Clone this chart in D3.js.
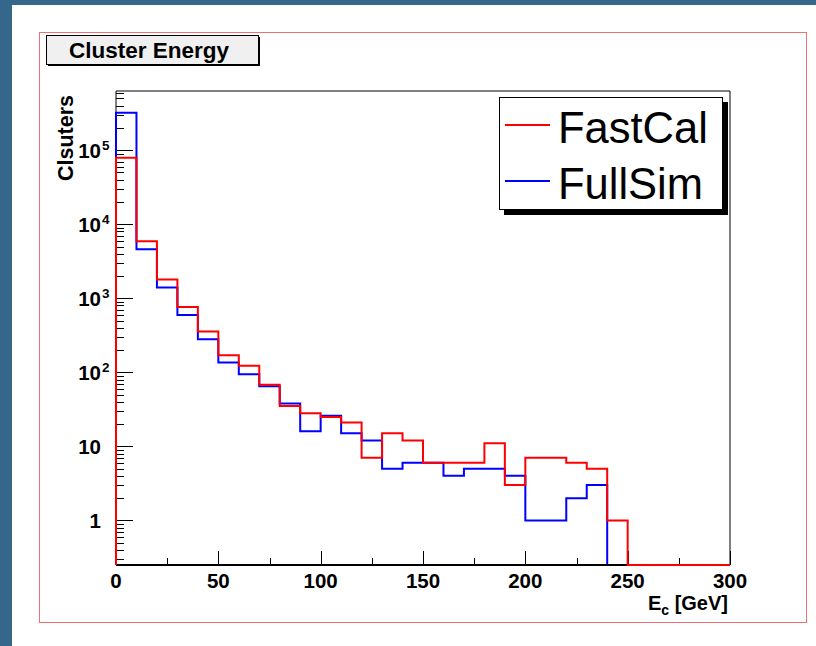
<!DOCTYPE html>
<html>
<head>
<meta charset="utf-8">
<script src="https://cdn.jsdelivr.net/npm/d3@7"></script>
<style>
  body { margin: 0; background: #ffffff; }
  svg text { font-family: "Liberation Sans", Arial, Helvetica, sans-serif; }
</style>
</head>
<body>
<svg id="chart" width="816" height="646"></svg>
<script>
// bin edges: 30 bins of 10 GeV from 0 to 300
var binEdges = d3.range(0, 301, 10);

// cluster counts per bin
var fastCal = [79000, 5900, 1800, 760, 355, 170, 123, 68, 35, 28,
  25, 21, 7, 15, 12, 6, 6, 6, 11, 3,
  7, 7, 6, 5, 1, 0, 0, 0, 0, 0];
var fullSim = [320000, 4600, 1400, 595, 280, 136, 94, 65, 38, 16,
  26, 15, 12, 5, 6, 6, 4, 5, 5, 4,
  1, 1, 2, 3, 0, 0, 0, 0, 0, 0];

var xTicks = d3.range(0, 301, 25);
var yDecades = [0, 1, 2, 3, 4, 5];
var yMin = 0.25, yMax = 6.3e5;

var svg = d3.select("#chart");

// canvas border strips
svg.append("rect").attr("x", 0).attr("y", 0).attr("width", 816).attr("height", 5).attr("fill", "#34678a");
svg.append("rect").attr("x", 0).attr("y", 0).attr("width", 12).attr("height", 646).attr("fill", "#34678a");

// pad frame
svg.append("rect")
  .attr("x", 39.5).attr("y", 32.5)
  .attr("width", 767).attr("height", 590)
  .attr("fill", "none")
  .attr("stroke", "#f07070")
  .attr("stroke-width", 1);

var plot = { left: 116, right: 730, top: 91, bottom: 565 };

var x = d3.scaleLinear().domain([0, 300]).range([plot.left, plot.right]);
var y = d3.scaleLog().domain([yMin, yMax]).range([plot.bottom, plot.top]);

// top / right / left edges of the frame
svg.append("path")
  .attr("d", "M" + plot.left + "," + plot.bottom + "V" + plot.top + "H" + plot.right + "V" + plot.bottom)
  .attr("fill", "none")
  .attr("stroke", "#000")
  .attr("stroke-width", 1);

// y ticks (log, pointing inside)
var yTickData = [];
d3.range(-1, 6).forEach(function (d) {
  for (var m = 1; m <= 9; m++) {
    var v = m * Math.pow(10, d);
    if (v >= yMin && v <= yMax) yTickData.push({ v: v, major: m == 1 });
  }
});

svg.append("g").selectAll("line")
  .data(yTickData)
  .join("line")
  .attr("x1", plot.left)
  .attr("x2", function (d) { return plot.left + (d.major ? 17 : 8); })
  .attr("y1", function (d) { return Math.round(y(d.v)) + 0.5; })
  .attr("y2", function (d) { return Math.round(y(d.v)) + 0.5; })
  .attr("stroke", "#000")
  .attr("stroke-width", 1);

// x ticks (pointing up)
svg.append("g").selectAll("line")
  .data(xTicks)
  .join("line")
  .attr("x1", function (d) { return Math.round(x(d)) + 0.5; })
  .attr("x2", function (d) { return Math.round(x(d)) + 0.5; })
  .attr("y1", plot.bottom)
  .attr("y2", function (d) { return plot.bottom - (d % 50 == 0 ? 14 : 7); })
  .attr("stroke", "#000")
  .attr("stroke-width", 1);

// y tick labels
var yLab = svg.append("g").selectAll("g")
  .data(yDecades)
  .join("g")
  .attr("transform", function (d) { return "translate(101," + (y(Math.pow(10, d)) + 7.5) + ")"; });

yLab.append("text")
  .attr("text-anchor", "end")
  .attr("font-size", 20.5)
  .attr("font-weight", "bold")
  .text(function (d) { return d == 0 ? "1" : "10"; });

yLab.filter(function (d) { return d > 1; })
  .append("text")
  .attr("x", 1)
  .attr("y", -8)
  .attr("font-size", 13.5)
  .attr("font-weight", "bold")
  .text(function (d) { return d; });

// x tick labels
svg.append("g").selectAll("text")
  .data(xTicks.filter(function (d) { return d % 50 == 0; }))
  .join("text")
  .attr("x", function (d) { return x(d); })
  .attr("y", 587.5)
  .attr("text-anchor", "middle")
  .attr("font-size", 20.5)
  .attr("font-weight", "bold")
  .text(function (d) { return d; });

// axis titles
svg.append("text")
  .attr("transform", "translate(73,95) rotate(-90)")
  .attr("text-anchor", "end")
  .attr("font-size", 21.5)
  .attr("font-weight", "bold")
  .text("Clsuters");

var xTitle = svg.append("text")
  .attr("x", 728)
  .attr("y", 610)
  .attr("text-anchor", "end")
  .attr("font-size", 20)
  .attr("font-weight", "bold");
xTitle.append("tspan").text("E");
xTitle.append("tspan").attr("font-size", 14).attr("dy", 4.5).text("c");
xTitle.append("tspan").attr("dy", -4.5).text(" [GeV]");

// step outline of a histogram, empty bins sit on the bottom edge
function stepPath(values) {
  var p = d3.path();
  p.moveTo(x(binEdges[0]), plot.bottom);
  values.forEach(function (v, i) {
    var yy = v > 0 ? y(v) : plot.bottom;
    p.lineTo(x(binEdges[i]), yy);
    p.lineTo(x(binEdges[i + 1]), yy);
  });
  return p.toString();
}

svg.append("path")
  .attr("d", stepPath(fullSim))
  .attr("fill", "none")
  .attr("stroke", "#0000ff")
  .attr("stroke-width", 2);

// bottom axis line
svg.append("line")
  .attr("x1", plot.left).attr("x2", plot.right)
  .attr("y1", plot.bottom).attr("y2", plot.bottom)
  .attr("stroke", "#000")
  .attr("stroke-width", 2);

svg.append("path")
  .attr("d", stepPath(fastCal))
  .attr("fill", "none")
  .attr("stroke", "#ff0000")
  .attr("stroke-width", 2);

// title box
svg.append("rect").attr("x", 48).attr("y", 37).attr("width", 212).attr("height", 29).attr("fill", "#000");
svg.append("rect")
  .attr("x", 46.5).attr("y", 35.5).attr("width", 212).attr("height", 29)
  .attr("fill", "#f0f0f0").attr("stroke", "#000").attr("stroke-width", 1);
svg.append("text")
  .attr("x", 149).attr("y", 57.5)
  .attr("text-anchor", "middle")
  .attr("font-size", 22.5)
  .attr("font-weight", "bold")
  .text("Cluster Energy");

// legend
var legendItems = [
  { name: "FastCal", color: "#ff0000" },
  { name: "FullSim", color: "#0000ff" }
];
var leg = svg.append("g").attr("transform", "translate(499,97)");
leg.append("rect").attr("x", 5).attr("y", 5).attr("width", 224).attr("height", 113).attr("fill", "#000");
leg.append("rect")
  .attr("x", 0.5).attr("y", 0.5).attr("width", 223).attr("height", 112)
  .attr("fill", "#fff").attr("stroke", "#000").attr("stroke-width", 1);

var key = leg.selectAll("g.key")
  .data(legendItems)
  .join("g")
  .attr("class", "key")
  .attr("transform", function (d, i) { return "translate(0," + (28 + i * 56) + ")"; });
key.append("line")
  .attr("x1", 6).attr("x2", 51)
  .attr("stroke", function (d) { return d.color; })
  .attr("stroke-width", 2);
key.append("text")
  .attr("x", 59).attr("y", 18)
  .attr("font-size", 43.5)
  .text(function (d) { return d.name; });
</script>
</body>
</html>
